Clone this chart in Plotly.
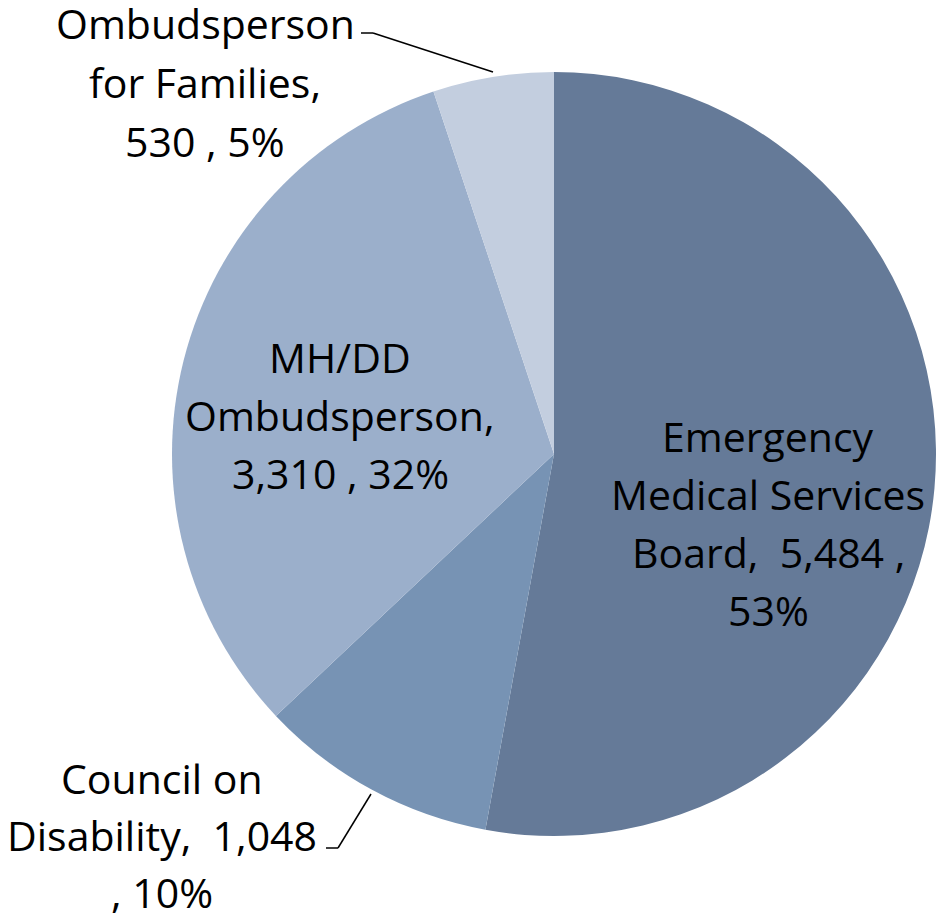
import plotly.graph_objects as go

labels = ["Emergency Medical Services Board", "Council on Disability",
          "MH/DD Ombudsperson", "Ombudsperson for Families"]
values = [5484, 1048, 3310, 530]
colors = ["#657A98", "#7793B4", "#9BAFCB", "#C3CEDF"]

# label text lines (as shown in the chart)
label_lines = [
    ["Emergency", "Medical Services", "Board,  5,484 ,", "53%"],
    ["Council on", "Disability,  1,048", ", 10%"],
    ["MH/DD", "Ombudsperson,", "3,310 , 32%"],
    ["Ombudsperson", "for Families,", "530 , 5%"],
]
# label block anchor (pixel centre x, first line y, line spacing)
label_pos = [(768, 436, 58), (162, 778, 57), (340, 357, 58), (205, 23, 59)]

W, H = 936, 914
FONT = "Open Sans"
FS = 41

fig = go.Figure(go.Pie(
    labels=labels, values=values, sort=False, direction="clockwise",
    rotation=0, textinfo="none", hoverinfo="label+value+percent",
    marker=dict(colors=colors, line=dict(width=0)),
    domain=dict(x=[172 / W, 1], y=[1 - 838 / H, 1 - 70 / H]),
    showlegend=False,
))

anns = []
for lines, (cx, y0, dy) in zip(label_lines, label_pos):
    for i, t in enumerate(lines):
        anns.append(dict(
            x=cx / W, y=1 - (y0 + i * dy) / H, xref="paper", yref="paper",
            text=t, showarrow=False, xanchor="center", yanchor="middle",
            font=dict(family=FONT, size=FS, color="#000000"),
        ))

shapes = []
def seg(x0, y0, x1, y1):
    shapes.append(dict(type="line", xref="paper", yref="paper",
                       x0=x0 / W, y0=1 - y0 / H, x1=x1 / W, y1=1 - y1 / H,
                       line=dict(color="#000000", width=1.5)))

# leader lines
seg(361, 33, 373, 33)
seg(373, 33, 493, 72)
seg(326, 848, 338, 848)
seg(338, 848, 371, 794)

fig.update_layout(
    width=W, height=H, margin=dict(l=0, r=0, t=0, b=0),
    paper_bgcolor="#FFFFFF", plot_bgcolor="#FFFFFF",
    annotations=anns, shapes=shapes,
)
fig.write_html("out.html", config={"displayModeBar": False},
               post_script="document.body.style.margin='0px';document.body.style.overflow='hidden';")
